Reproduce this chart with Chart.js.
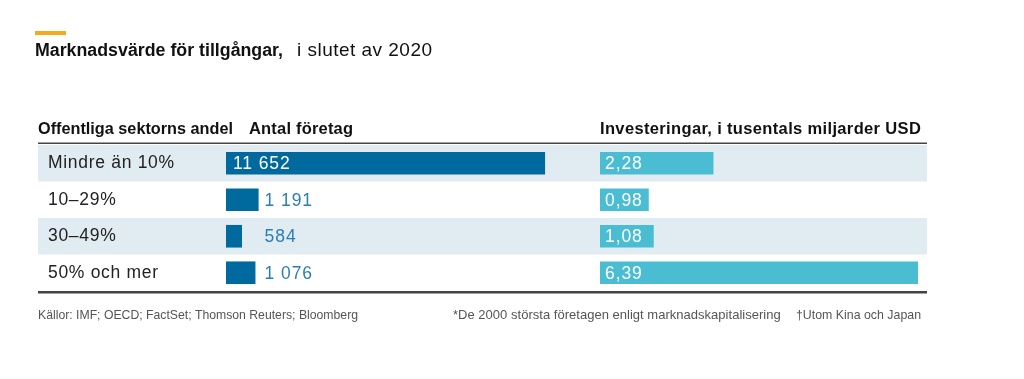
<!DOCTYPE html>
<html>
<head>
<meta charset="utf-8">
<script src="https://cdn.jsdelivr.net/npm/chart.js@4.4.1/dist/chart.umd.min.js"></script>
<style>
  html, body { margin: 0; padding: 0; background: #ffffff; }
  #wrap { position: relative; width: 1024px; height: 379px; }
  #wrap canvas { position: absolute; left: 0; top: 0; }
</style>
</head>
<body>
<div id="wrap">
  <canvas id="left" width="1024" height="379"></canvas>
  <canvas id="right" width="1024" height="379"></canvas>
</div>
<script>
// ---- data ----
const categories = ['Mindre än 10%', '10–29%', '30–49%', '50% och mer'];
const companies = [11652, 1191, 584, 1076];
const investments = [2.28, 0.98, 1.08, 6.39];
const titleBold = 'Marknadsvärde för tillgångar,';
const titleRest = 'i slutet av 2020';
const headers = ['Offentliga sektorns andel', 'Antal företag', 'Investeringar, i tusentals miljarder USD'];
const footnotes = ['Källor: IMF; OECD; FactSet; Thomson Reuters; Bloomberg',
                   '*De 2000 största företagen enligt marknadskapitalisering',
                   '†Utom Kina och Japan'];

const FONT = '"Liberation Sans", Arial, Helvetica, sans-serif';
const fmtCount = v => String(v).replace(/\B(?=(\d{3})+(?!\d))/g, ' ');
const fmtInv = v => v.toFixed(2).replace('.', ',');

// draw text spread (or squeezed) to a given width
function fitText(ctx, text, x, y, width) {
  ctx.letterSpacing = '0px';
  const nat = ctx.measureText(text).width;
  if (nat > width) {
    ctx.fillText(text, x, y, width);
  } else {
    const ls = (width - nat) / Math.max(1, text.length - 1);
    ctx.letterSpacing = ls.toFixed(2) + 'px';
    ctx.fillText(text, x, y);
    ctx.letterSpacing = '0px';
  }
}

// ---- frame (title, bands, rules, headers, footnotes) ----
const framePlugin = {
  id: 'frame',
  beforeDraw(chart) {
    const ctx = chart.ctx;
    const area = chart.chartArea;
    ctx.save();
    ctx.fillStyle = '#ffffff';
    ctx.fillRect(0, 0, chart.width, chart.height);
    // row bands
    const n = categories.length;
    const rowH = (area.bottom - area.top) / n;
    for (let i = 0; i < n; i += 2) {
      ctx.fillStyle = '#e1ebf2';
      ctx.fillRect(38, area.top + i * rowH, 927 - 38, rowH);
    }
    // accent
    ctx.fillStyle = '#f4a91f';
    ctx.fillRect(35, 31, 31, 4);
    // title
    ctx.fillStyle = '#111111';
    ctx.textBaseline = 'alphabetic';
    ctx.textAlign = 'left';
    ctx.font = 'bold 18px ' + FONT;
    fitText(ctx, titleBold, 35, 56, 248);
    ctx.font = '19px ' + FONT;
    fitText(ctx, titleRest, 297, 56, 135);
    // headers
    ctx.font = 'bold 16.5px ' + FONT;
    fitText(ctx, headers[0], 38, 134, 195);
    fitText(ctx, headers[1], 249, 134, 104);
    fitText(ctx, headers[2], 600, 134, 321);
    // header rule
    ctx.fillStyle = '#444444';
    ctx.fillRect(38, 142.5, 927 - 38, 1.5);
    ctx.restore();
    // spacing for the category tick labels drawn next by the y axis
    ctx.letterSpacing = '0.7px';
  },
  beforeDatasetsDraw(chart) {
    chart.ctx.letterSpacing = '0px';
  },
  afterDraw(chart) {
    const ctx = chart.ctx;
    const area = chart.chartArea;
    ctx.save();
    ctx.fillStyle = '#444444';
    ctx.fillRect(38, area.bottom, 927 - 38, 2.5);
    ctx.fillStyle = '#555555';
    ctx.font = '13px ' + FONT;
    ctx.textBaseline = 'alphabetic';
    ctx.textAlign = 'left';
    fitText(ctx, footnotes[0], 38, 319, 320);
    fitText(ctx, footnotes[1], 453, 319, 328);
    fitText(ctx, footnotes[2], 796, 319, 125);
    ctx.restore();
  }
};

// ---- value labels ----
const valueLabels = {
  id: 'valueLabels',
  afterDatasetsDraw(chart, args, opts) {
    const ctx = chart.ctx;
    const meta = chart.getDatasetMeta(0);
    const data = chart.data.datasets[0].data;
    ctx.save();
    ctx.font = '17.5px ' + FONT;
    ctx.letterSpacing = '0.9px';
    ctx.textBaseline = 'middle';
    ctx.textAlign = 'left';
    const items = meta.data.map((bar, i) => {
      const txt = opts.format(data[i]);
      const tw = ctx.measureText(txt).width;
      const inside = tw + 2 * opts.pad <= (bar.x - bar.base);
      return { bar, txt, inside };
    });
    let outX = 0;
    items.forEach(it => { if (!it.inside) outX = Math.max(outX, it.bar.x + 6); });
    items.forEach(it => {
      if (it.inside) {
        ctx.fillStyle = '#ffffff';
        ctx.fillText(it.txt, it.bar.base + opts.pad, it.bar.y + 1);
      } else {
        ctx.fillStyle = opts.outsideColor;
        ctx.fillText(it.txt, outX, it.bar.y + 1);
      }
    });
    ctx.letterSpacing = '0px';
    ctx.restore();
  }
};

Chart.defaults.font.family = FONT;

new Chart(document.getElementById('left'), {
  type: 'bar',
  data: {
    labels: categories,
    datasets: [{
      data: companies,
      backgroundColor: '#006a9f',
      borderWidth: 0,
      barPercentage: 0.62,
      categoryPercentage: 1
    }]
  },
  plugins: [framePlugin, valueLabels],
  options: {
    indexAxis: 'y',
    responsive: false,
    animation: false,
    devicePixelRatio: 1,
    layout: { padding: { left: 48, right: 442, top: 145, bottom: 88 } },
    scales: {
      x: { display: false, min: 0, max: 13000 },
      y: {
        grid: { display: false, drawTicks: false },
        border: { display: false },
        afterFit(scale) { scale.width = 178; },
        ticks: {
          crossAlign: 'far',
          padding: 0,
          color: '#222222',
          font: { size: 17.5, family: FONT }
        }
      }
    },
    plugins: {
      legend: { display: false },
      tooltip: { enabled: false },
      valueLabels: { pad: 7, outsideColor: '#2a7fb2', format: fmtCount }
    }
  }
});

new Chart(document.getElementById('right'), {
  type: 'bar',
  data: {
    labels: categories,
    datasets: [{
      data: investments,
      backgroundColor: '#4bbdd3',
      borderWidth: 0,
      barPercentage: 0.62,
      categoryPercentage: 1
    }]
  },
  plugins: [valueLabels],
  options: {
    indexAxis: 'y',
    responsive: false,
    animation: false,
    devicePixelRatio: 1,
    layout: { padding: { left: 600, right: 100.5, top: 145, bottom: 88 } },
    scales: {
      x: { display: false, min: 0, max: 6.5 },
      y: { display: false }
    },
    plugins: {
      legend: { display: false },
      tooltip: { enabled: false },
      valueLabels: { pad: 5, outsideColor: '#2a7fb2', format: fmtInv }
    }
  }
});
</script>
</body>
</html>
